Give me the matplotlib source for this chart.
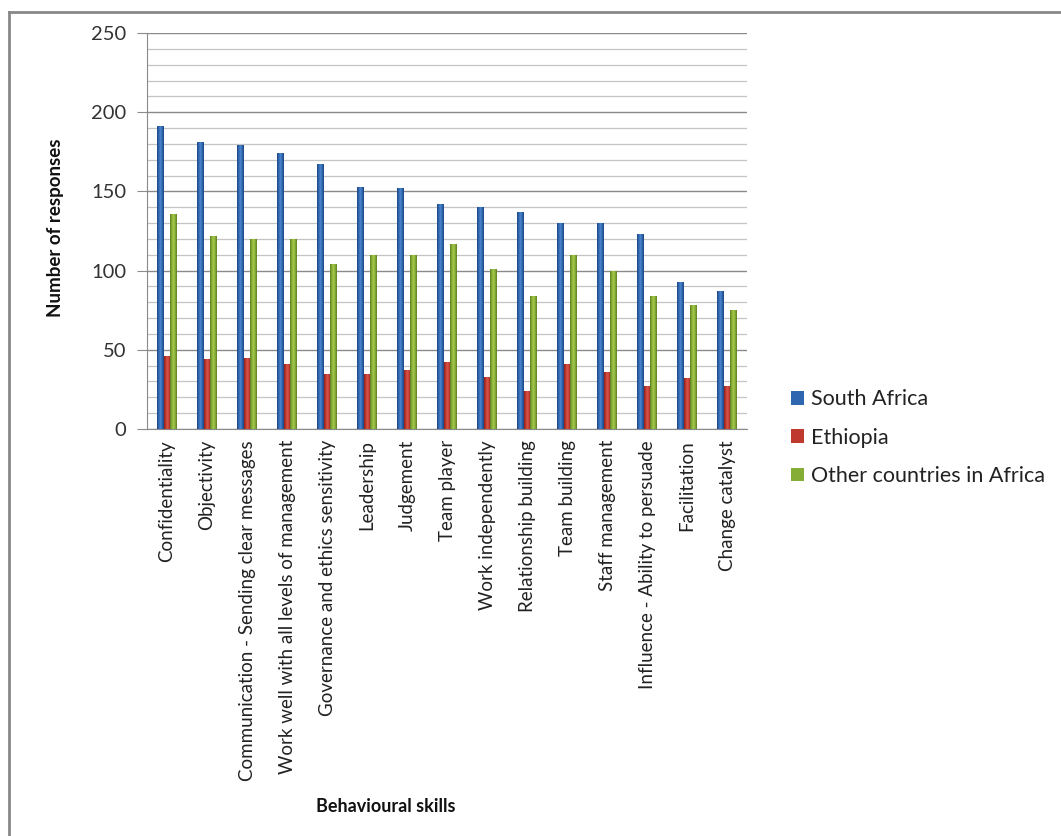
import numpy as np
import matplotlib
matplotlib.use("Agg")
import matplotlib.pyplot as plt
from matplotlib.colors import LinearSegmentedColormap
from matplotlib.lines import Line2D
from matplotlib.patches import Patch

plt.rcParams['font.family'] = ['Lato', 'DejaVu Sans']

skills = ['Confidentiality', 'Objectivity', 'Communication - Sending clear messages',
          'Work well with all levels of management', 'Governance and ethics sensitivity',
          'Leadership', 'Judgement', 'Team player', 'Work independently',
          'Relationship building', 'Team building', 'Staff management',
          'Influence - Ability to persuade', 'Facilitation', 'Change catalyst']
south_africa = [191, 181, 179, 174, 167, 153, 152, 142, 140, 137, 130, 130, 123, 93, 87]
ethiopia = [46, 44, 45, 41, 35, 35, 37, 42, 33, 24, 41, 36, 27, 32, 27]
other_africa = [136, 122, 120, 120, 104, 110, 110, 117, 101, 84, 110, 100, 84, 78, 75]
series_names = ['South Africa', 'Ethiopia', 'Other countries in Africa']

# dark edge -> light middle -> dark edge, a rough cylinder shading
shades = {
    'South Africa': ['#1c4580', '#2f66b0', '#4a86cf', '#2f66b0', '#1c4580'],
    'Ethiopia': ['#8e1f1a', '#c0392f', '#d9564b', '#c0392f', '#8e1f1a'],
    'Other countries in Africa': ['#5d7d1f', '#86ad36', '#a5c850', '#86ad36', '#5d7d1f'],
}
legend_colors = {'South Africa': '#2f66b0', 'Ethiopia': '#c0392f',
                 'Other countries in Africa': '#86ad36'}

fig = plt.figure(figsize=(10.61, 8.36), dpi=100)
ax = fig.add_axes([147 / 1061, 1 - 429 / 836, 600 / 1061, 396 / 836])

x = np.arange(len(skills))
bar_w = 0.165
grad = np.linspace(0, 1, 64).reshape(1, -1)

for i, (name, vals) in enumerate(zip(series_names, [south_africa, ethiopia, other_africa])):
    cmap = LinearSegmentedColormap.from_list(name, shades[name])
    bars = ax.bar(x + (i - 1) * bar_w, vals, width=bar_w, color='none', zorder=3)
    for b in bars:
        img = ax.imshow(grad, cmap=cmap, aspect='auto', zorder=3,
                        extent=(b.get_x(), b.get_x() + b.get_width(), 0, b.get_height()))
        img.set_clip_path(b)

ax.set_xlim(-0.5, len(skills) - 0.5)
ax.set_ylim(0, 250)
ax.set_yticks(range(0, 251, 50))
ax.set_yticks(range(0, 251, 10), minor=True)
ax.grid(axis='y', which='minor', color='#c4c4c4', linewidth=0.9, zorder=0)
ax.grid(axis='y', which='major', color='#8a8a8a', linewidth=1.0, zorder=0)
ax.tick_params(axis='y', which='major', length=7, color='#8a8a8a', labelsize=14.5,
               labelcolor='#333333', pad=8)
ax.tick_params(axis='y', which='minor', length=0)
ax.tick_params(axis='x', length=0, labelsize=13.5, labelcolor='#222222', pad=8)
ax.set_xticks(x)
ax.set_xticklabels(skills, rotation=90)

for side in ['top', 'right']:
    ax.spines[side].set_visible(False)
ax.spines['left'].set_color('#8a8a8a')
ax.spines['bottom'].set_color('#8a8a8a')

fig.text(56 / 1061, 1 - 228 / 836, 'Number of responses', rotation=90, ha='center',
         va='center', fontsize=13.5, fontweight='bold', color='#111111')
fig.text(386 / 1061, 1 - 807 / 836, 'Behavioural skills', ha='center', va='center',
         fontsize=13, fontweight='bold', color='#111111')

handles = [Patch(facecolor=legend_colors[n], edgecolor='none') for n in series_names]
fig.legend(handles, series_names, loc='upper left', bbox_to_anchor=(772 / 1061, 1 - 370 / 836),
           frameon=False, fontsize=15.5, handlelength=0.6, handleheight=0.6,
           handletextpad=0.3, labelspacing=0.85, labelcolor='#222222')

# chart frame, only the top and left edges
fig.add_artist(Line2D([9 / 1061, 1], [1 - 12 / 836] * 2, color='#888888', linewidth=2))
fig.add_artist(Line2D([9 / 1061] * 2, [0, 1 - 12 / 836], color='#888888', linewidth=2))

fig.savefig('out.png', dpi=100, facecolor='white')
